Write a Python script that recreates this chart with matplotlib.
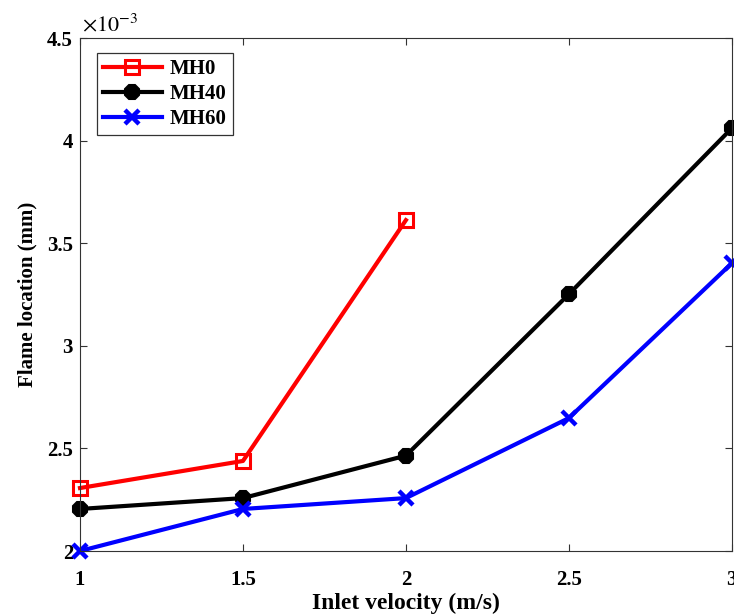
import numpy as np
import matplotlib.pyplot as plt
from matplotlib.ticker import FuncFormatter

plt.rcParams['font.family'] = ['Liberation Serif', 'DejaVu Serif']
plt.rcParams['mathtext.fontset'] = 'stix'

# inlet velocity (m/s) and flame location (mm)
v_mh0 = [1.0, 1.5, 2.0]
loc_mh0 = [2.307e-3, 2.439e-3, 3.613e-3]

v_mh40 = [1.0, 1.5, 2.0, 2.5, 3.0]
loc_mh40 = [2.205e-3, 2.258e-3, 2.465e-3, 3.252e-3, 4.061e-3]

v_mh60 = [1.0, 1.5, 2.0, 2.5, 3.0]
loc_mh60 = [2.0e-3, 2.205e-3, 2.258e-3, 2.648e-3, 3.403e-3]

fig = plt.figure(figsize=(7.34, 6.16), dpi=100)
ax = fig.add_axes([0.109, 0.1055, 0.888, 0.8325])

ax.plot(v_mh0, loc_mh0, color='red', lw=3, marker='s', ms=10,
        mfc='none', mec='red', mew=2.2, label='MH0', clip_on=False)
ax.plot(v_mh40, loc_mh40, color='black', lw=3, marker='8', ms=11,
        mfc='black', mec='black', mew=1.5, label='MH40', clip_on=False)
ax.plot(v_mh60, loc_mh60, color='blue', lw=3, marker='x', ms=10,
        mew=3.2, label='MH60', clip_on=False)

ax.set_xlim(1, 3)
ax.set_ylim(2e-3, 4.5e-3)
ax.set_xticks([1, 1.5, 2, 2.5, 3])
ax.set_yticks([2e-3, 2.5e-3, 3e-3, 3.5e-3, 4e-3, 4.5e-3])
ax.xaxis.set_major_formatter(FuncFormatter(lambda v, p: '%g' % v))
ax.yaxis.set_major_formatter(FuncFormatter(lambda v, p: '%g' % round(v * 1e3, 3)))
ax.text(0.003, 1.003, r'$\times10^{-3}$', transform=ax.transAxes,
        fontsize=16, ha='left', va='bottom')

ax.tick_params(direction='in', length=5, width=0.8, top=True, right=True,
               labelsize=15, color='#333333')
ax.tick_params(axis='x', pad=14)
ax.tick_params(axis='y', pad=5)
for lab in ax.get_xticklabels() + ax.get_yticklabels():
    lab.set_fontweight('bold')
for s in ax.spines.values():
    s.set_color('#333333')
    s.set_linewidth(0.8)

ax.set_xlabel('Inlet velocity (m/s)', fontsize=17, fontweight='bold', labelpad=2)
ax.set_ylabel('Flame location (mm)', fontsize=15, fontweight='bold', labelpad=7)

leg = ax.legend(loc='upper left', bbox_to_anchor=(0.026, 0.972),
                prop={'weight': 'bold', 'size': 15}, fancybox=False,
                edgecolor='black', handlelength=2.8, borderpad=0.3,
                labelspacing=0.25, handletextpad=0.4, borderaxespad=0)
leg.get_frame().set_linewidth(0.9)

plt.savefig('out.png', dpi=100)
